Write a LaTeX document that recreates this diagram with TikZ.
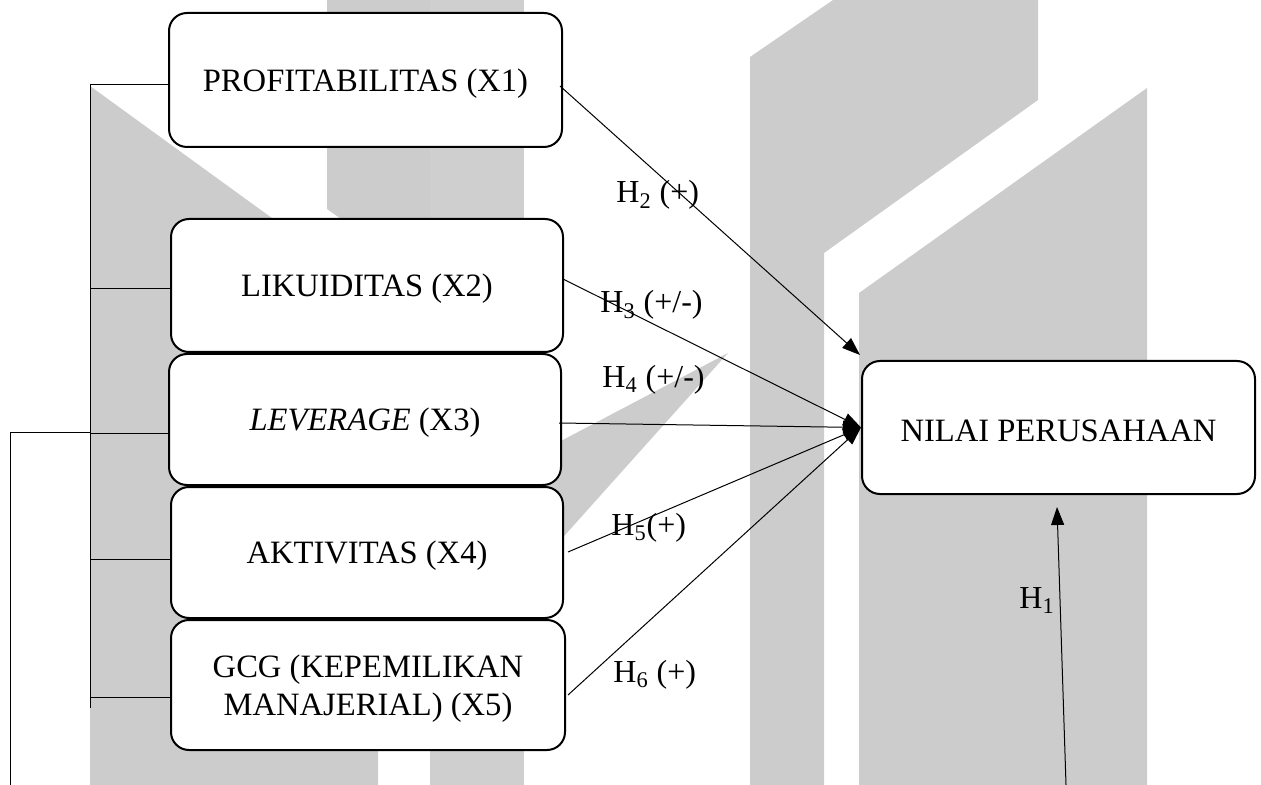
\documentclass[tikz,border=0pt]{standalone}
\usepackage{fontspec}
\setmainfont{Liberation Serif}
\usetikzlibrary{arrows.meta,calc}
\definecolor{wm}{HTML}{CCCCCC}
\definecolor{wmb}{HTML}{CFCFCF}
\newcommand\txtdown[1]{\raisebox{-1.75pt}[\height][\depth]{#1}}
\begin{document}
\begin{tikzpicture}[x=0.5pt,y=-0.5pt,
  box/.style={draw, line width=1pt, rounded corners=9pt, fill=white, inner sep=0pt, font=\fontsize{16.3}{19}\selectfont},
  lbl/.style={font=\fontsize{16}{19}\selectfont, inner sep=0pt, anchor=base west},
  conn/.style={line width=0.5pt},
  arr/.style={line width=0.5pt, -{Triangle[length=9pt,width=6.5pt]}}]
\useasboundingbox (0,0) rectangle (1261,785);
% watermark
\fill[wm] (90,86) -- (378,295) -- (378,785) -- (90,785) -- cycle;
\fill[wm] (327,0) -- (430,0) -- (430,282) -- (327,209) -- cycle;
\fill[wmb] (430,0) rectangle (524,785);
\fill[wm] (750,785) -- (750,57) -- (833,0) -- (1038,0) -- (1038,100) -- (824,253) -- (824,785) -- cycle;
\fill[wm] (859,785) -- (859,293) -- (1147,88) -- (1147,785) -- cycle;
\fill[wm] (728,353) -- (540,452) -- (540,563) -- cycle;
% boxes
\node[box, minimum width=196.5pt, minimum height=67pt] (x1) at (365.5,80) {\txtdown{PROFITABILITAS (X1)}};
\node[box, minimum width=196pt, minimum height=66.5pt] (x2) at (367,285.5) {\txtdown{LIKUIDITAS (X2)}};
\node[box, minimum width=196pt, minimum height=65.5pt] (x3) at (365,419.5) {\txtdown{\textit{LEVERAGE} (X3)}};
\node[box, minimum width=196pt, minimum height=65.5pt] (x4) at (367,552.5) {\txtdown{AKTIVITAS (X4)}};
\node[box, minimum width=197pt, minimum height=65pt] (x5) at (368,685) {\txtdown{\begin{tabular}{@{}c@{}}GCG (KEPEMILIKAN\\MANAJERIAL) (X5)\end{tabular}}};
\node[box, minimum width=196.5pt, minimum height=66.5pt] (y) at (1058.5,427.5) {\txtdown{NILAI PERUSAHAAN}};
% bracket
\coordinate (bt) at (90,85);
\coordinate (bb) at (90,708);
\coordinate (b2) at (90,289);
\coordinate (b3) at (90,433);
\coordinate (b4) at (90,559);
\coordinate (b5) at (90,697);
\draw[conn] (bt) -- (bb);
\draw[conn] (bt) -- (bt -| x1.west);
\draw[conn] (b2) -- (b2 -| x2.west);
\draw[conn] (b3) -- (b3 -| x3.west);
\draw[conn] (b4) -- (b4 -| x4.west);
\draw[conn] (b5) -- (b5 -| x5.west);
\coordinate (o1) at (10,432);
\coordinate (o2) at (10,785);
\draw[conn] (o2) -- (o1) -- (o1 -| bt);
% arrows
\draw[arr] ($(x1.east)+(-3,6)$) -- ($(y.north west)+(-1,-5)$);
\draw[arr] ($(x2.east)+(-1,-6.5)$) -- (y.west);
\draw[arr] ($(x3.east)+(-3,3.5)$) -- (y.west);
\draw[arr] ($(x4.east)+(4,-0.5)$) -- (y.west);
\draw[arr] ($(x5.east)+(2,10)$) -- (y.west);
\coordinate (h1s) at (1066,785);
\draw[arr] (h1s) -- ($(y.south)+(-1.5,12)$);
% labels
\node[lbl] (l2) at (616,203) {H\textsubscript{2} (+)};
\node[lbl] (l3) at (600,313) {H\textsubscript{3} (+/-)};
\node[lbl] (l4) at (602,387) {H\textsubscript{4} (+/-)};
\node[lbl] (l5) at (611,535) {H\textsubscript{5}(+)};
\node[lbl] (l6) at (613,682) {H\textsubscript{6} (+)};
\node[lbl] (l1) at (1019,608) {H\textsubscript{1}};
\end{tikzpicture}
\end{document}
